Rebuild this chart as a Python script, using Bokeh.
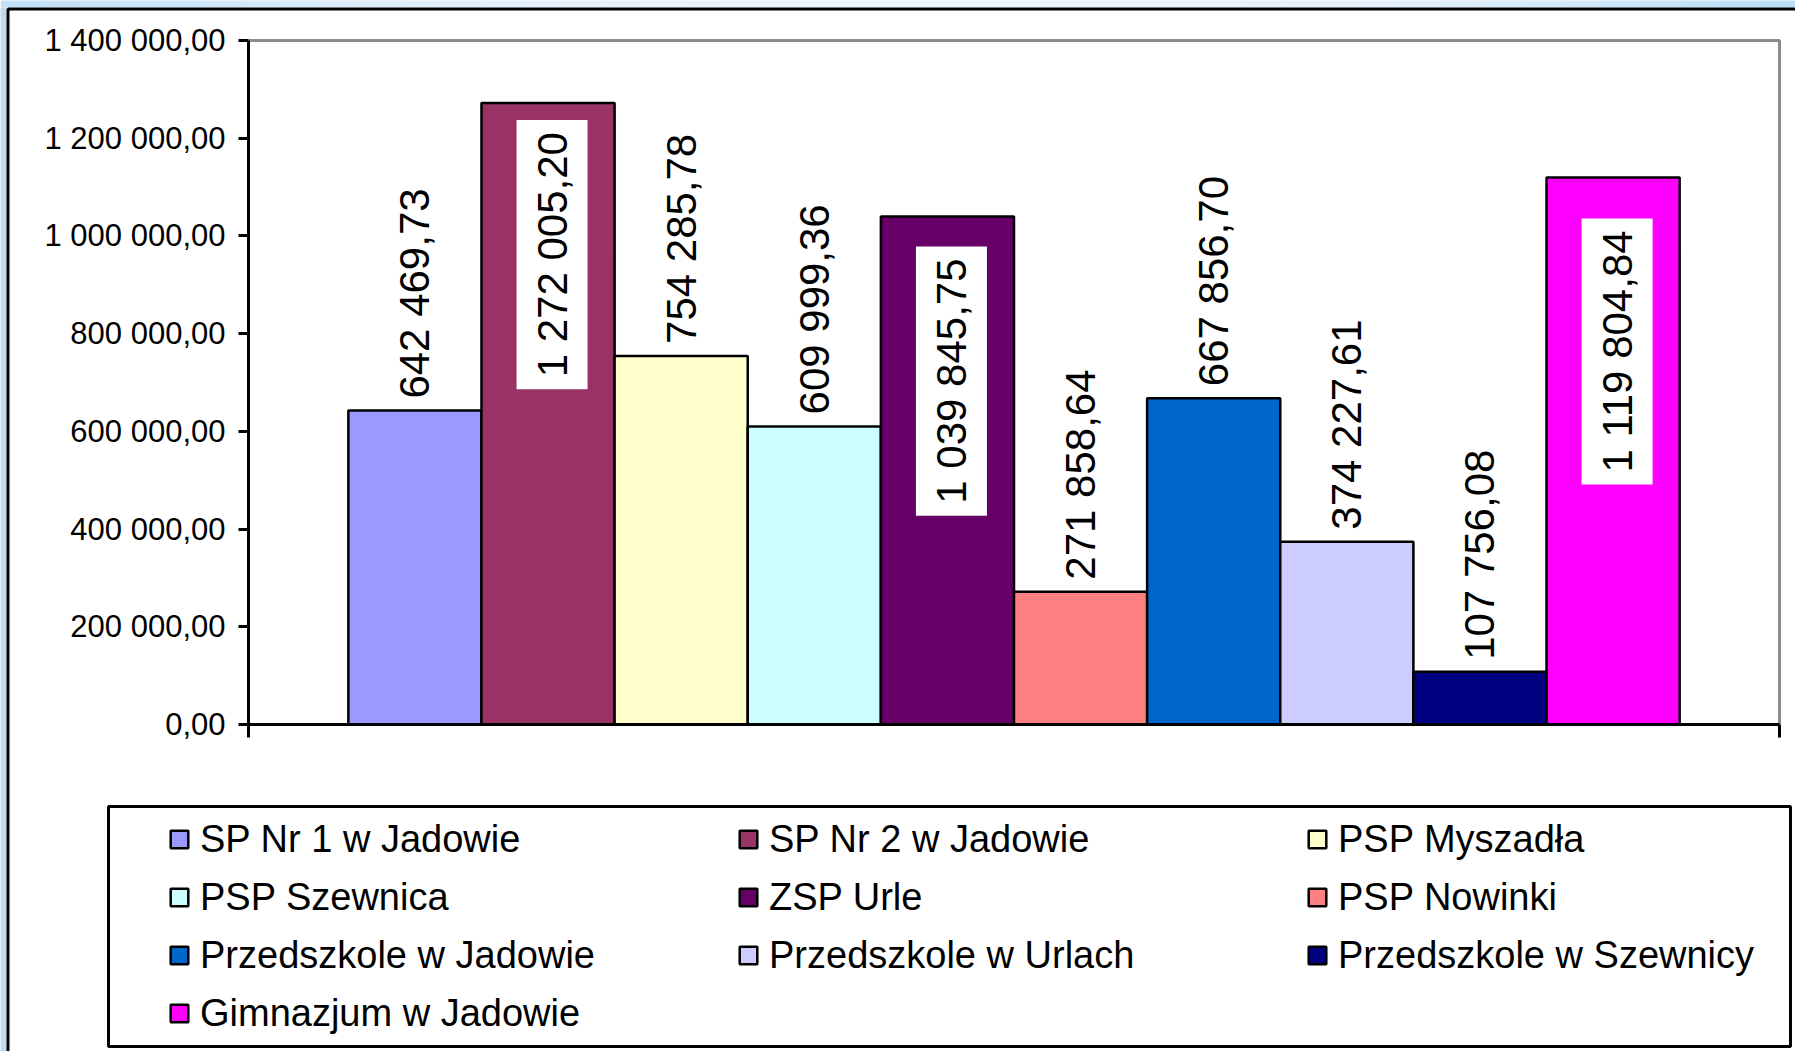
import numpy as np
from bokeh.plotting import figure
from bokeh.models import (ColumnDataSource, Range1d, FixedTicker, Legend, LegendItem,
                          CustomJSTickFormatter, BoxAnnotation)
from bokeh.core.properties import value
from bokeh.embed import file_html
from bokeh.resources import INLINE

# ---------------- data ----------------
categories = ["SP Nr 1 w Jadowie", "SP Nr 2 w Jadowie", "PSP Myszadła",
              "PSP Szewnica", "ZSP Urle", "PSP Nowinki",
              "Przedszkole w Jadowie", "Przedszkole w Urlach", "Przedszkole w Szewnicy",
              "Gimnazjum w Jadowie"]
values = [642469.73, 1272005.20, 754285.78, 609999.36, 1039845.75,
          271858.64, 667856.70, 374227.61, 107756.08, 1119804.84]
y_ticks = [0, 200000, 400000, 600000, 800000, 1000000, 1200000, 1400000]
y_tick_labels = ["0,00", "200 000,00", "400 000,00", "600 000,00", "800 000,00",
                 "1 000 000,00", "1 200 000,00", "1 400 000,00"]

# ---------------- styles ----------------
colors = ["#9999FF", "#993366", "#FFFFCC", "#CCFFFF", "#660066",
          "#FF8080", "#0066CC", "#CCCCFF", "#000080", "#FF00FF"]
label_inside = [False, True, False, False, True, False, False, False, False, True]
inside_gap_px = [17, 30, 41]          # gap between bar top and white label box
FONT = "Liberation Sans"

W, H = 1795, 1051                      # canvas
PL, PR, PT, PB = 248, 1779, 40, 724    # plot-area box (pixels)


def fmt(v):
    return f"{v:,.2f}".replace(",", " ").replace(".", ",")


n = len(values)
xs = [i + 0.5 for i in range(n)]
labels = [fmt(v) for v in values]

x0, x1 = -0.75, n + 0.75
y0, y1 = y_ticks[0], y_ticks[-1]
ppx = (PR - PL) / (x1 - x0)
ppy = (PB - PT) / (y1 - y0)

p = figure(width=W, height=H, output_backend="svg", toolbar_location=None, title=None,
           x_range=Range1d(x0 - PL / ppx, x1 + (W - PR) / ppx),
           y_range=Range1d(y0 - (H - PB) / ppy, y1 + PT / ppy),
           min_border=0, min_border_left=0, min_border_right=0,
           min_border_top=0, min_border_bottom=0,
           background_fill_color="white", border_fill_color="white")
p.outline_line_color = None
p.xgrid.visible = False
p.ygrid.visible = False


def screen_box(left, top, right, bottom, **kw):
    return BoxAnnotation(left=left, right=right, top=H - top, bottom=H - bottom,
                         left_units="screen", right_units="screen",
                         top_units="screen", bottom_units="screen", **kw)


# light-blue surround of the chart panel
def mix(c1, c2, t):
    a = [int(c1[i:i + 2], 16) for i in (1, 3, 5)]
    b = [int(c2[i:i + 2], 16) for i in (1, 3, 5)]
    return "#" + "".join(f"{round(a[k] + (b[k] - a[k]) * t):02x}" for k in range(3))


stops = [(0, "#c0e0f8"), (450, "#e2f0fc"), (900, "#eef6fd"), (1400, "#e4f1fc"), (1795, "#b9ddf7")]
seg = 40
for sx in range(0, W, seg):
    cx = sx + seg / 2
    col = stops[-1][1]
    for (a, ca), (b, cb) in zip(stops[:-1], stops[1:]):
        if a <= cx <= b:
            col = mix(ca, cb, (cx - a) / (b - a))
            break
    p.add_layout(screen_box(sx, -5, sx + seg + 1, 7, fill_color=col, fill_alpha=1,
                            line_color=None, level="underlay"))
p.add_layout(screen_box(-5, 7, 6, H + 5, fill_color="#bcdcf6", fill_alpha=1,
                        line_color=None, level="underlay"))
# black panel border (top and left visible)
p.add_layout(screen_box(7.5, 8.5, W + 20, H + 20, fill_alpha=0, line_color="black",
                        line_alpha=1, line_width=3, level="underlay"))
# legend frame
p.add_layout(screen_box(108, 806, 1790, 1046, fill_color="white", fill_alpha=1,
                        line_color="black", line_alpha=1, line_width=3, level="underlay"))

# plot-area border (top and right, grey)
p.line(x=[x0, x1, x1], y=[y1, y1, y0], line_color="#8c8c8c", line_width=3)

# y axis
ya = p.yaxis[0]
ya.fixed_location = x0
ya.bounds = (y0, y1)
ya.ticker = FixedTicker(ticks=y_ticks)
ya.major_label_overrides = {t: l for t, l in zip(y_ticks, y_tick_labels)}
ya.axis_line_color = "black"
ya.axis_line_width = 3
ya.major_tick_line_color = "black"
ya.major_tick_line_width = 3
ya.major_tick_out = 10
ya.major_tick_in = 0
ya.minor_tick_out = 0
ya.minor_tick_in = 0
ya.major_label_standoff = 13
ya.major_label_text_font = FONT
ya.major_label_text_font_size = "31px"
ya.major_label_text_color = "black"

# x axis (category axis, ticks only at both ends)
xa = p.xaxis[0]
xa.fixed_location = y0
xa.bounds = (x0, x1)
xa.ticker = FixedTicker(ticks=[x0, x1])
xa.formatter = CustomJSTickFormatter(code="return ''")
xa.axis_line_color = "black"
xa.axis_line_width = 3
xa.major_tick_line_color = "black"
xa.major_tick_line_width = 3
xa.major_tick_out = 13
xa.major_tick_in = 0
xa.minor_tick_out = 0
xa.minor_tick_in = 0

src = ColumnDataSource(dict(x=xs, top=values, color=colors, name=categories, label=labels))
bars = p.vbar(x="x", top="top", bottom=0, width=1, fill_color="color",
              line_color="black", line_width=2.5, source=src)

out_idx = [i for i in range(n) if not label_inside[i]]
in_idx = [i for i in range(n) if label_inside[i]]
out_src = ColumnDataSource(dict(x=[xs[i] for i in out_idx], y=[values[i] for i in out_idx],
                                t=[labels[i] for i in out_idx]))
in_src = ColumnDataSource(dict(x=[xs[i] for i in in_idx], y=[values[i] for i in in_idx],
                               t=[labels[i] for i in in_idx], off=inside_gap_px))

p.text(x="x", y="y", text="t", source=out_src, angle=np.pi / 2,
       text_align="left", text_baseline="middle", y_offset=-12,
       text_font=value(FONT), text_font_size="42px", text_color="black")
p.text(x="x", y="y", text="t", source=in_src, angle=np.pi / 2,
       text_align="right", text_baseline="middle", x_offset=4, y_offset="off",
       text_font=value(FONT), text_font_size="42px", text_color="black",
       background_fill_color="white", padding=12)

# legend entries
items = [LegendItem(label=categories[i], renderers=[bars], index=i) for i in range(n)]
leg = Legend(items=items, location=(168, H - 1042), orientation="horizontal", ncols=3,
             glyph_width=22, glyph_height=22, label_standoff=10, label_width=537,
             label_height=58, spacing=0, padding=0, margin=0,
             border_line_color=None, background_fill_alpha=0,
             label_text_font=FONT, label_text_font_size="38px",
             label_text_color="black", label_text_baseline="middle")
p.add_layout(leg, "center")

open("out.html", "w").write(file_html(p, INLINE))
